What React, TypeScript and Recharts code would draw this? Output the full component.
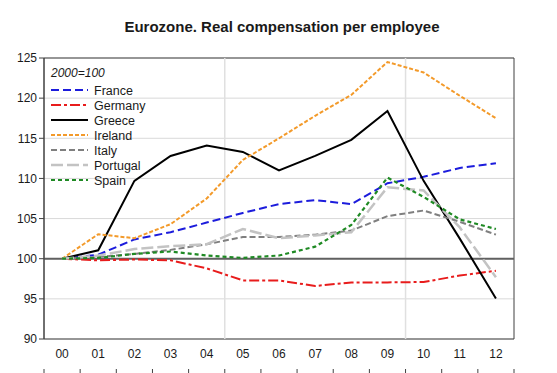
import React from 'react';
import {
  LineChart,
  Line,
  XAxis,
  YAxis,
  CartesianGrid,
  ReferenceLine,
  ReferenceArea,
  Legend,
} from 'recharts';

const years = ['00', '01', '02', '03', '04', '05', '06', '07', '08', '09', '10', '11', '12'];
const yTicks = [90, 95, 100, 105, 110, 115, 120, 125];

const france = [100, 100.5, 102.4, 103.3, 104.5, 105.7, 106.8, 107.3, 106.8, 109.4, 110.2, 111.3, 111.9];
const germany = [100, 99.8, 99.9, 99.8, 98.8, 97.3, 97.3, 96.6, 97.05, 97.05, 97.1, 97.9, 98.5];
const greece = [100, 101.05, 109.7, 112.8, 114.1, 113.3, 111.0, 112.8, 114.8, 118.4, 109.7, 102.5, 95.05];
const ireland = [100, 103.05, 102.55, 104.3, 107.5, 112.3, 115.0, 117.8, 120.4, 124.5, 123.2, 120.3, 117.5];
const italy = [100, 100.2, 100.6, 101.1, 101.8, 102.7, 102.7, 103.0, 103.5, 105.3, 106.0, 104.6, 103.0];
const portugal = [100, 100.4, 101.2, 101.55, 101.8, 103.7, 102.55, 102.9, 103.3, 108.9, 108.5, 103.9, 97.7];
const spain = [100, 100.1, 100.6, 100.9, 100.4, 100.1, 100.4, 101.5, 104.2, 110.1, 107.7, 104.9, 103.7];

const series = [
  { key: 'France', values: france, color: '#1c1cdc', dash: '8 4', width: 2 },
  { key: 'Germany', values: germany, color: '#e81c1c', dash: '10 3 3 3', width: 2 },
  { key: 'Greece', values: greece, color: '#000000', dash: undefined as string | undefined, width: 2 },
  { key: 'Ireland', values: ireland, color: '#f39a2a', dash: '4 2', width: 2 },
  { key: 'Italy', values: italy, color: '#7f7f7f', dash: '6 3', width: 2 },
  { key: 'Portugal', values: portugal, color: '#c3c3c3', dash: '12 4', width: 2.5 },
  { key: 'Spain', values: spain, color: '#1f8a24', dash: '4 3', width: 2.2 },
];

const data = years.map((label, i) => {
  const row: Record<string, number | string> = { x: i, label };
  series.forEach((s) => {
    row[s.key] = s.values[i];
  });
  return row;
});

const boundaryTicks = years.map((_, i) => i - 0.5).concat([years.length - 0.5]);

const FONT = '"Liberation Sans", Arial, sans-serif';

const LegendContent = (props: any) => {
  const payload = (props.payload || []) as any[];
  return (
    <svg width={130} height={130} style={{ display: 'block' }}>
      <text x={3} y={15} fontFamily={FONT} fontSize={12} fontStyle="italic" fill="#1a1a1a">
        2000=100
      </text>
      {payload.map((p, i) => {
        const s = series.find((q) => q.key === p.value);
        const y = 28 + i * 15;
        return (
          <g key={p.value}>
            <line
              x1={3}
              x2={40}
              y1={y}
              y2={y}
              stroke={p.color}
              strokeWidth={s ? s.width : 2}
              strokeDasharray={s && s.dash ? s.dash : undefined}
            />
            <text x={46} y={y + 4.5} fontFamily={FONT} fontSize={12.5} fill="#1a1a1a">
              {p.value}
            </text>
          </g>
        );
      })}
    </svg>
  );
};

export default function App() {
  return (
    <div style={{ position: 'absolute', left: 0, top: 0, width: 557, height: 373, background: '#fff' }}>
      <div
        style={{
          position: 'absolute',
          left: 0,
          top: 18,
          width: 564,
          textAlign: 'center',
          fontFamily: FONT,
          fontWeight: 'bold',
          fontSize: 15,
          color: '#1a1a1a',
          zIndex: 2,
        }}
      >
        Eurozone. Real compensation per employee
      </div>
      <LineChart
        width={557}
        height={373}
        data={data}
        margin={{ top: 58, right: 43, bottom: 3, left: 0 }}
      >
        <CartesianGrid vertical={false} stroke="#d9d9d9" strokeWidth={1} />
        <ReferenceLine x={4.5} stroke="#e0e0e0" strokeWidth={1.5} />
        <ReferenceLine x={9.5} stroke="#e0e0e0" strokeWidth={1.5} />
        <XAxis
          xAxisId="b"
          dataKey="x"
          type="number"
          domain={[-0.5, 12.5]}
          ticks={boundaryTicks}
          interval={0}
          tickFormatter={() => ''}
          tick={{ fontSize: 1, fill: 'none' }}
          tickLine={{ stroke: '#404040' }}
          axisLine={false}
          tickSize={5}
          height={1}
          allowDataOverflow
        />
        <XAxis
          dataKey="x"
          type="number"
          domain={[-0.5, 12.5]}
          ticks={years.map((_, i) => i)}
          tickFormatter={(v: number) => years[v] ?? ''}
          interval={0}
          tickLine={false}
          axisLine={false}
          tickSize={5}
          tickMargin={5}
          height={30}
          tick={{ fontFamily: FONT, fontSize: 12, fill: '#1a1a1a' }}
          allowDataOverflow
        />
        <YAxis
          type="number"
          domain={[90, 125]}
          ticks={yTicks}
          interval={0}
          width={44}
          tickSize={5}
          tickMargin={2}
          tickLine={{ stroke: '#404040' }}
          axisLine={{ stroke: '#404040' }}
          tick={{ fontFamily: FONT, fontSize: 12, fill: '#1a1a1a' }}
          allowDataOverflow
        />
        <ReferenceArea
          x1={-0.5}
          x2={12.5}
          y1={90}
          y2={125}
          fill="none"
          fillOpacity={0}
          stroke="#404040"
          strokeWidth={1}
        />
        <ReferenceLine y={100} stroke="#606060" strokeWidth={2} />
        {series.map((s) => (
          <Line
            key={s.key}
            dataKey={s.key}
            name={s.key}
            type="linear"
            stroke={s.color}
            strokeWidth={s.width}
            strokeDasharray={s.dash}
            dot={false}
            activeDot={false}
            isAnimationActive={false}
          />
        ))}
        <Legend
          layout="vertical"
          align="center"
          verticalAlign="middle"
          content={<LegendContent />}
          wrapperStyle={{ left: 48, top: 62, width: 130, height: 130 }}
        />
      </LineChart>
    </div>
  );
}
